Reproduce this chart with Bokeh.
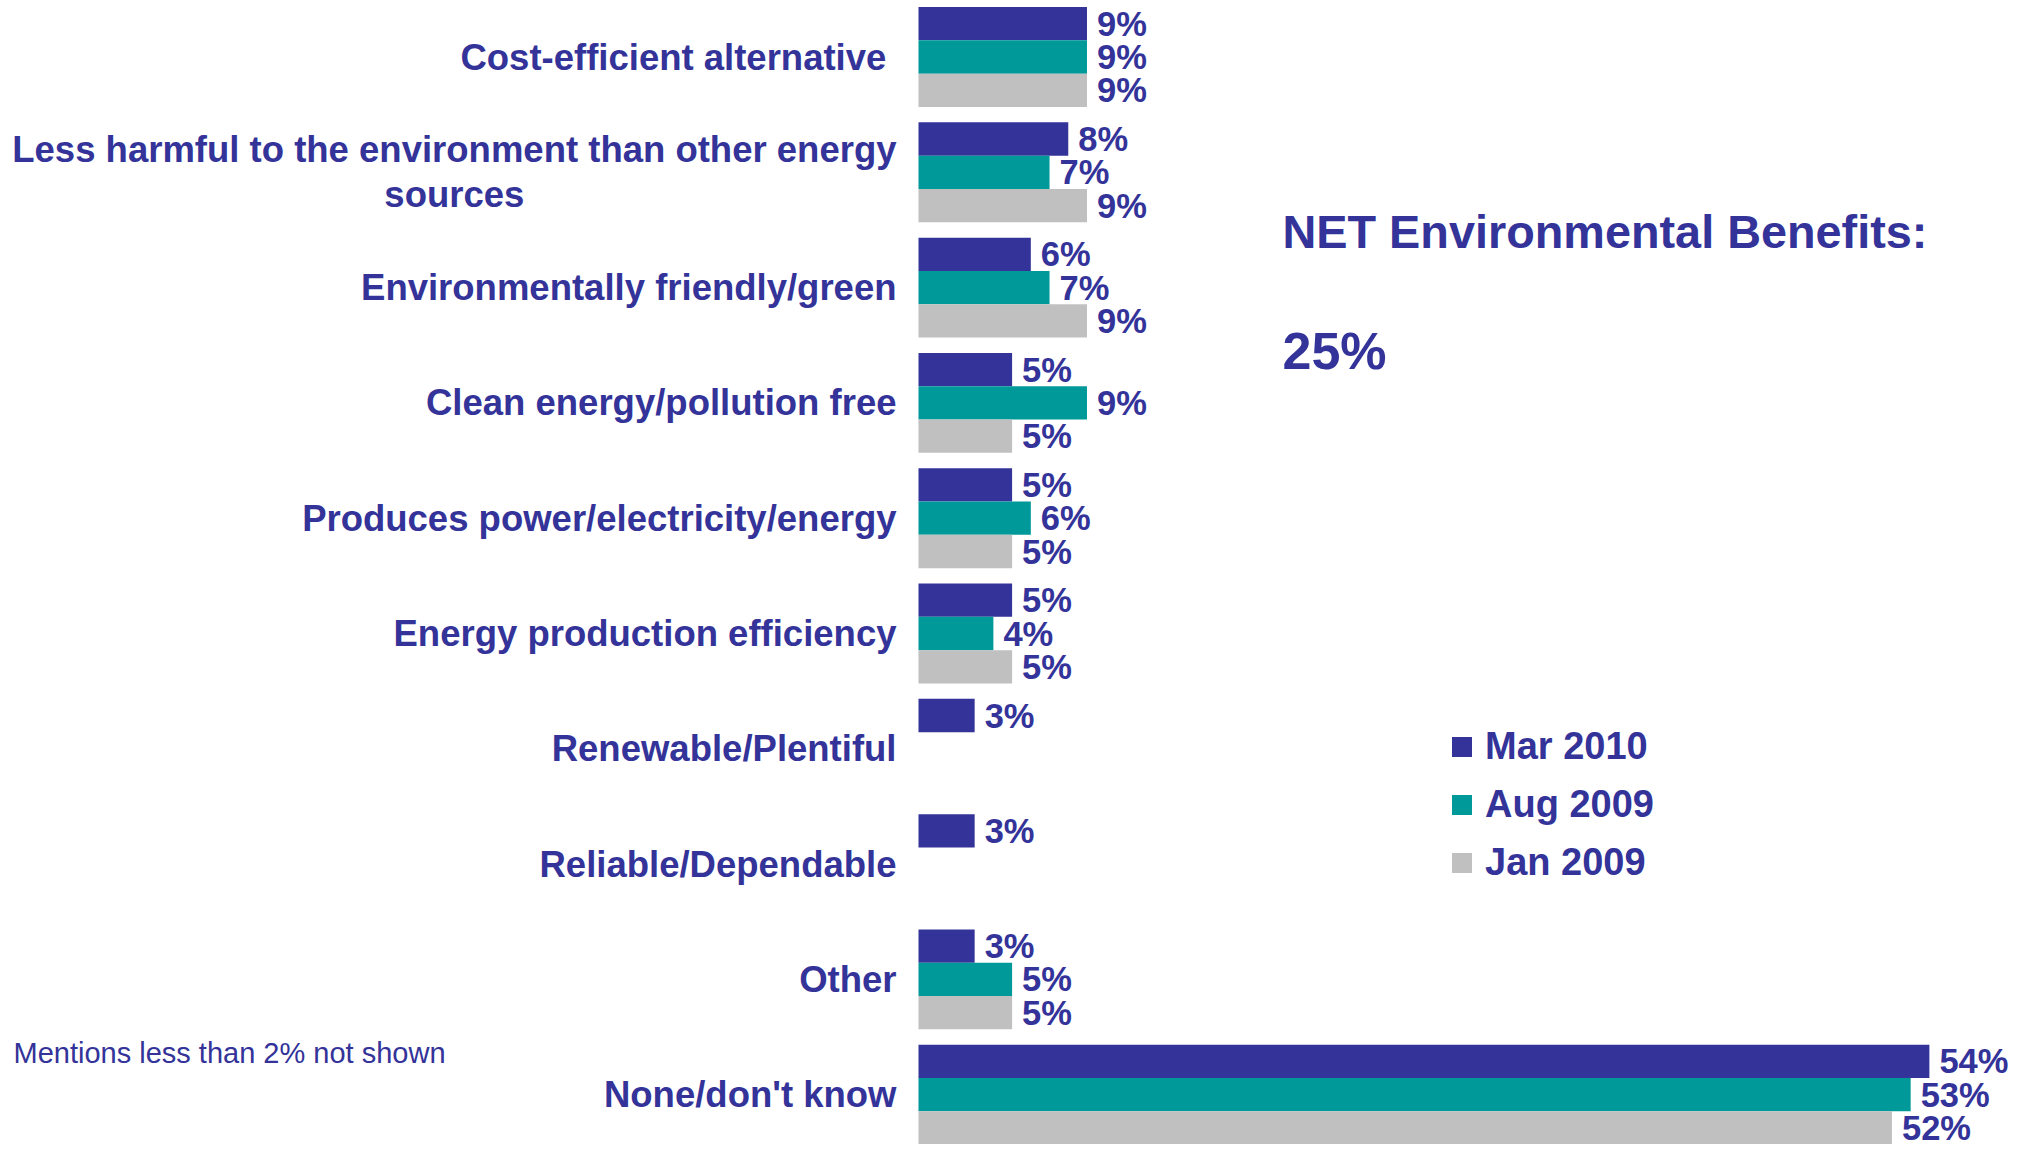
from bokeh.plotting import figure
from bokeh.models import ColumnDataSource, Range1d, Label, Legend, LegendItem
from bokeh.core.properties import value
from bokeh.embed import file_html
from bokeh.resources import INLINE

# ---------------- data ----------------
categories = [
    "Cost-efficient alternative ",
    "Less harmful to the environment than other energy\nsources",
    "Environmentally friendly/green",
    "Clean energy/pollution free",
    "Produces power/electricity/energy",
    "Energy production efficiency",
    "Renewable/Plentiful",
    "Reliable/Dependable",
    "Other",
    "None/don't know",
]
mar_2010 = [9, 8, 6, 5, 5, 5, 3, 3, 3, 54]
aug_2009 = [9, 7, 7, 9, 6, 4, None, None, 5, 53]
jan_2009 = [9, 9, 9, 5, 5, 5, None, None, 5, 52]
series_names = ["Mar 2010", "Aug 2009", "Jan 2009"]
series_colors = ["#333399", "#009999", "#C0C0C0"]
net_title = "NET Environmental Benefits:"
net_value = "25%"
footnote = "Mentions less than 2% not shown"

# ---------------- layout ----------------
W, H = 2008, 1144
PX_PER_CAT = 115.3
PX_PER_PCT = 18.72
BAR_LEFT_PX = 918
TOP_CENTER_PX = 56.5
BAR_H = 33.3 / PX_PER_CAT
TEXT_COLOR = "#333399"
FONT = "Liberation Sans"

x_range = Range1d(-BAR_LEFT_PX / PX_PER_PCT, (W - BAR_LEFT_PX) / PX_PER_PCT)
y_range = Range1d(-(H - TOP_CENTER_PX) / PX_PER_CAT, TOP_CENTER_PX / PX_PER_CAT)

p = figure(width=W, height=H, output_backend="svg", toolbar_location=None,
           x_range=x_range, y_range=y_range,
           x_axis_location=None, y_axis_location=None,
           min_border=0, min_border_left=0, min_border_right=0,
           min_border_top=0, min_border_bottom=0)
p.grid.visible = False
p.outline_line_color = None
p.background_fill_color = "white"
p.border_fill_color = "white"

series = [mar_2010, aug_2009, jan_2009]
offsets = [BAR_H, 0.0, -BAR_H]

renderers = []
label_sources = []
for vals, col, off in zip(series, series_colors, offsets):
    ys, xs, labs = [], [], []
    for i, v in enumerate(vals):
        if v is None:
            continue
        ys.append(-i + off)
        xs.append(v)
        labs.append(f"{v}%")
    src = ColumnDataSource(dict(y=ys, val=xs, label=labs))
    r = p.hbar(y="y", left=0, right="val", height=BAR_H, source=src,
               fill_color=col, line_color=None)
    renderers.append(r)
    label_sources.append(src)

for src in label_sources:
    p.text(x="val", y="y", text="label", source=src, x_offset=10,
           text_align="left", text_baseline="middle",
           text_font=value(FONT), text_font_style="bold",
           text_font_size="34.5px", text_color=TEXT_COLOR)

cat_src = ColumnDataSource(dict(x=[0] * len(categories),
                                y=[-i for i in range(len(categories))],
                                text=categories))
p.text(x="x", y="y", text="text", source=cat_src, x_offset=-22,
       anchor="center_right", text_align="center", text_baseline="middle",
       text_line_height=1.1,
       text_font=value(FONT), text_font_style="bold",
       text_font_size="36.5px", text_color=TEXT_COLOR)

p.add_layout(Label(x=1282, y=H - 231, x_units="screen", y_units="screen",
                   text=net_title, text_font=FONT, text_font_style="bold",
                   text_font_size="46.8px", text_color=TEXT_COLOR,
                   text_baseline="middle"))
p.add_layout(Label(x=1282, y=H - 350, x_units="screen", y_units="screen",
                   text=net_value, text_font=FONT, text_font_style="bold",
                   text_font_size="52px", text_color=TEXT_COLOR,
                   text_baseline="middle"))
p.add_layout(Label(x=13, y=H - 1052, x_units="screen", y_units="screen",
                   text=footnote, text_font=FONT,
                   text_font_size="29px", text_color=TEXT_COLOR,
                   text_baseline="middle"))

legend = Legend(items=[LegendItem(label=n, renderers=[r])
                       for n, r in zip(series_names, renderers)],
                location=(1449, 258), orientation="vertical",
                glyph_width=25, glyph_height=25, label_standoff=11,
                label_height=48, spacing=10, padding=0, margin=0,
                label_text_font=FONT, label_text_font_style="bold",
                label_text_font_size="38px", label_text_color=TEXT_COLOR,
                border_line_color=None, background_fill_alpha=0)
p.add_layout(legend)

open("out.html", "w").write(file_html(p, INLINE))
